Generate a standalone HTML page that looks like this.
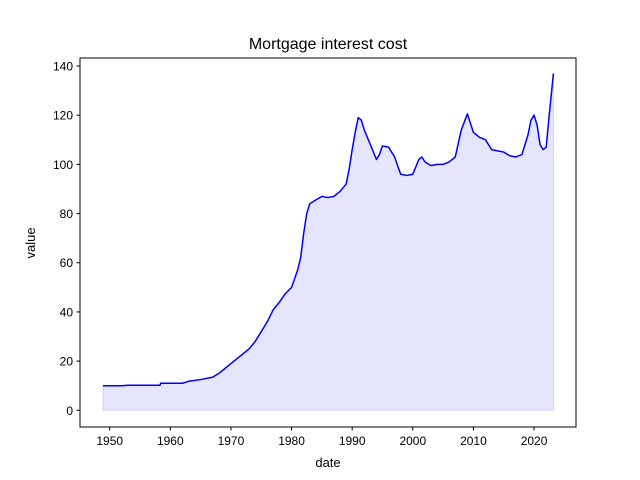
<!DOCTYPE html>
<html><head><meta charset="utf-8"><style>
body{margin:0;background:#fff;}
svg{display:block;font-family:"Liberation Sans","DejaVu Sans",sans-serif;}
</style></head><body>
<svg id="chart" width="640" height="480" viewBox="0 0 640 480" xmlns="http://www.w3.org/2000/svg">
<rect width="640" height="480" fill="#fff"/>
<text x="328" y="49" text-anchor="middle" font-size="16">Mortgage interest cost</text>
<g id="plot"></g>
<rect x="80" y="58" width="496" height="369" fill="none" stroke="#000" stroke-width="1"/>
<g id="xt"></g><g id="yt"></g>
<text x="328" y="467" text-anchor="middle" font-size="13">date</text>
<text transform="translate(35,243) rotate(-90)" text-anchor="middle" font-size="13">value</text>
</svg>
<script>
const years=[1948.9,1952,1953,1958.3,1958.4,1962,1963,1965,1967,1968,1969,1970,1971,1972,1973,1974,1975,1976,1977,1978,1979,1980,1981,1981.5,1982,1982.5,1983,1984,1985,1986,1987,1988,1989,1989.5,1990,1990.5,1991,1991.5,1992,1993,1994,1994.5,1995,1996,1997,1998,1999,2000,2001,2001.5,2002,2003,2004,2005,2006,2007,2008,2009,2010,2011,2012,2013,2014,2015,2016,2017,2018,2019,2019.5,2020,2020.5,2021,2021.5,2022,2022.5,2023.2];
const values=[10,10,10.2,10.2,11,11,11.8,12.5,13.5,15,17,19,21,23,25,28,32,36,41,44,47.5,50,57,62,72,80,84,85.5,87,86.5,87,89,92,98,106,113,119,118,114,108,102,104,107.5,107,103,96,95.5,96,102,103,101,99.5,100,100,101,103,114,120.5,113,111,110,106,105.5,105,103.5,103,104,112,118,120,116,108,106,107,120,137];
const xTicks=[1950,1960,1970,1980,1990,2000,2010,2020];
const yTicks=[0,20,40,60,80,100,120,140];
const NS="http://www.w3.org/2000/svg";
const xs=v=>109.7+(v-1950)*6.062;
const ys=v=>410.3-v*344.3/140;
const plot=document.getElementById('plot');
let pts=years.map((y,i)=>xs(y).toFixed(2)+","+ys(values[i]).toFixed(2));
const area=document.createElementNS(NS,'polygon');


area.setAttribute('points',pts.join(' ')+" "+xs(years[years.length-1])+","+ys(0)+" "+xs(years[0])+","+ys(0));
area.setAttribute('fill','rgba(0,0,255,0.1)');
area.setAttribute('stroke','rgba(0,0,255,0.15)');
plot.appendChild(area);
const line=document.createElementNS(NS,'polyline');


line.setAttribute('points',pts.join(' '));
line.setAttribute('fill','none');line.setAttribute('stroke','#0000ff');line.setAttribute('stroke-width','1.5');line.setAttribute('stroke-linejoin','round');
plot.appendChild(line);
const xt=document.getElementById('xt');
xTicks.forEach(t=>{const x=xs(t);
const l=document.createElementNS(NS,'line');


l.setAttribute('x1',x);l.setAttribute('x2',x);l.setAttribute('y1',427);l.setAttribute('y2',430.5);l.setAttribute('stroke','#000');xt.appendChild(l);
const tx=document.createElementNS(NS,'text');


tx.setAttribute('x',x);tx.setAttribute('y',445);tx.setAttribute('text-anchor','middle');tx.setAttribute('font-size','12');tx.textContent=t;xt.appendChild(tx);});
const yt=document.getElementById('yt');
yTicks.forEach(t=>{const y=ys(t);
const l=document.createElementNS(NS,'line');


l.setAttribute('x1',76.5);l.setAttribute('x2',80);l.setAttribute('y1',y);l.setAttribute('y2',y);l.setAttribute('stroke','#000');yt.appendChild(l);
const tx=document.createElementNS(NS,'text');


tx.setAttribute('x',73);tx.setAttribute('y',y+4.5);tx.setAttribute('text-anchor','end');tx.setAttribute('font-size','12');tx.textContent=t;yt.appendChild(tx);});
</script>
</body></html>
